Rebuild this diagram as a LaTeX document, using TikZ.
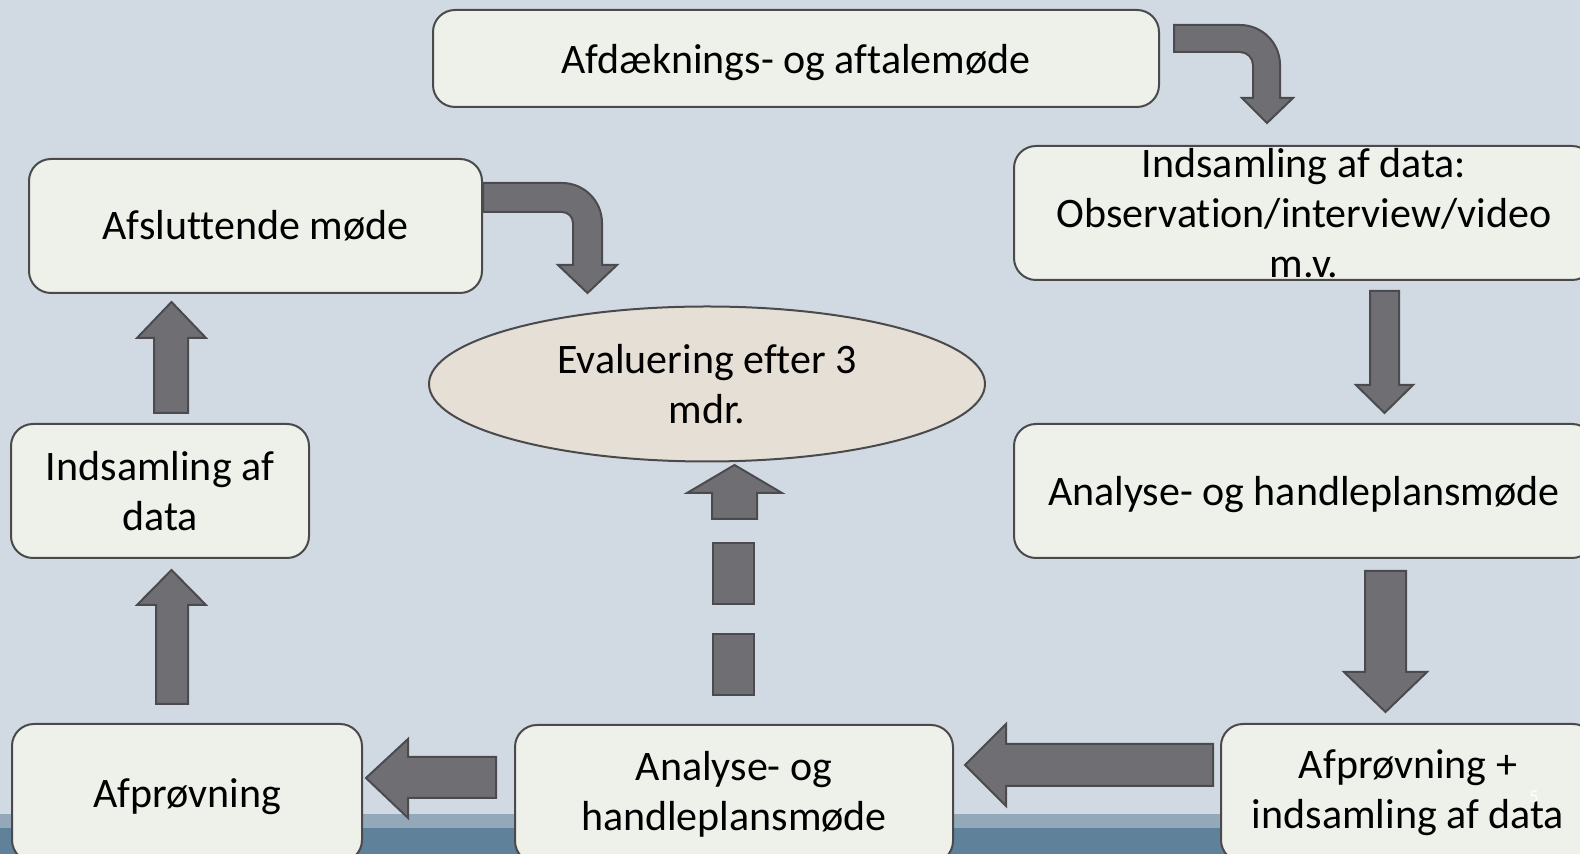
\documentclass[tikz,border=0pt]{standalone}
\usepackage{fontspec}
\setmainfont[Ligatures=NoCommon]{Carlito}
\usetikzlibrary{shapes.geometric}
\definecolor{bg}{HTML}{D1DAE2}
\definecolor{bandlight}{HTML}{93A9B9}
\definecolor{banddark}{HTML}{5F8199}
\definecolor{boxfill}{HTML}{EEF1E9}
\definecolor{boxline}{HTML}{4A4A4C}
\definecolor{ellfill}{HTML}{E6DFD6}
\definecolor{arrfill}{HTML}{6F6E73}
\definecolor{arrline}{HTML}{4B4B4F}
\begin{document}
\begin{tikzpicture}[x=0.5pt,y=-0.5pt,
  box/.style={draw=boxline, fill=boxfill, line width=1pt, rounded corners=11pt,
    align=center, inner sep=0pt, font=\fontsize{21}{25}\selectfont},
  oneline/.style={text depth=0pt},
  ell/.style={ellipse, draw=boxline, fill=ellfill, line width=1pt,
    align=center, inner sep=0pt, font=\fontsize{21}{25}\selectfont},
  blk/.style={fill=arrfill, draw=arrline, line width=1pt, line join=miter}]
\useasboundingbox (0,0) rectangle (1580,854);
\clip (0,0) rectangle (1580,854);
\fill[bg] (0,0) rectangle (1580,854);
\fill[bandlight] (0,814) rectangle (1580,828);
\fill[banddark] (0,828) rectangle (1580,854);

% boxes
\node[box, oneline, minimum width=363pt, minimum height=48.5pt] (top) at (796,58.5) {Afdæknings- og aftalemøde};
\node[box, minimum width=290pt, minimum height=67pt] (obs) at (1304,213) {Indsamling af data:\\Observation/interview/video\\m.v.};
\node[box, minimum width=226.5pt, minimum height=67pt] (afsl) at (255.5,226) {Afsluttende møde};
\node[ell, minimum width=278pt, minimum height=77.5pt] (eval) at (707,384) {Evaluering efter 3\\mdr.};
\node[box, minimum width=149pt, minimum height=67pt] (indsL) at (160,491) {Indsamling af\\data};
\node[box, oneline, minimum width=290pt, minimum height=67pt] (anaR) at (1304,491) {Analyse- og handleplansmøde};
\node[box, oneline, minimum width=175pt, minimum height=69pt] (afpr) at (187,793) {Afprøvning};
\node[box, minimum width=219pt, minimum height=69pt] (anaB) at (734,794) {Analyse- og\\handleplansmøde};
\node[box, minimum width=187pt, minimum height=69pt] (afprR) at (1408,793) {Afprøvning +\\indsamling af data};
\node[text=white, font=\fontsize{9}{10}\selectfont, inner sep=0pt] (pg) at (1534,797) {5};

% bent arrow top -> obs
\draw[blk] (1174,25) -- (1240,25) arc[start angle=-90, end angle=0, radius=40]
  -- (1280,98) -- (1293,98) -- (1267,123) -- (1242,98) -- (1253,98) -- (1253,65)
  arc[start angle=0, end angle=-90, radius=13] -- (1174,52) -- cycle;
% bent arrow afsl -> eval
\draw[blk] (483,183) -- (562,183) arc[start angle=-90, end angle=0, radius=40]
  -- (602,265) -- (617,265) -- (587.5,293) -- (558,265) -- (573,265) -- (573,223)
  arc[start angle=0, end angle=-90, radius=11] -- (483,212) -- cycle;
% down arrow obs -> anaR
\draw[blk] (1370,291) -- (1399,291) -- (1399,385) -- (1413,385) -- (1384.5,413)
  -- (1356,385) -- (1370,385) -- cycle;
% down arrow anaR -> afprR
\draw[blk] (1365,571) -- (1406,571) -- (1406,672) -- (1427,672) -- (1385.5,712)
  -- (1344,672) -- (1365,672) -- cycle;
% left arrow afprR -> anaB
\draw[blk] (1213,744) -- (1006,744) -- (1006,724) -- (965,765) -- (1006,806)
  -- (1006,786) -- (1213,786) -- cycle;
% left arrow anaB -> afpr
\draw[blk] (496,757) -- (408,757) -- (408,739) -- (366,778) -- (408,818)
  -- (408,798) -- (496,798) -- cycle;
% up arrow afpr -> indsL
\draw[blk] (156,704) -- (156,605) -- (137,605) -- (171.5,570) -- (206,605)
  -- (188,605) -- (188,704) -- cycle;
% up arrow indsL -> afsl
\draw[blk] (154,413) -- (154,338) -- (137,338) -- (171.5,302) -- (206,338)
  -- (188,338) -- (188,413) -- cycle;
% dashed up arrow anaB -> eval
\draw[blk] (712,519) -- (712,493) -- (687,493) -- (734.5,465) -- (782,493)
  -- (757,493) -- (757,519) -- cycle;
\draw[blk] (713,543) rectangle (754,604);
\draw[blk] (713,634) rectangle (754,695);
\end{tikzpicture}
\end{document}
